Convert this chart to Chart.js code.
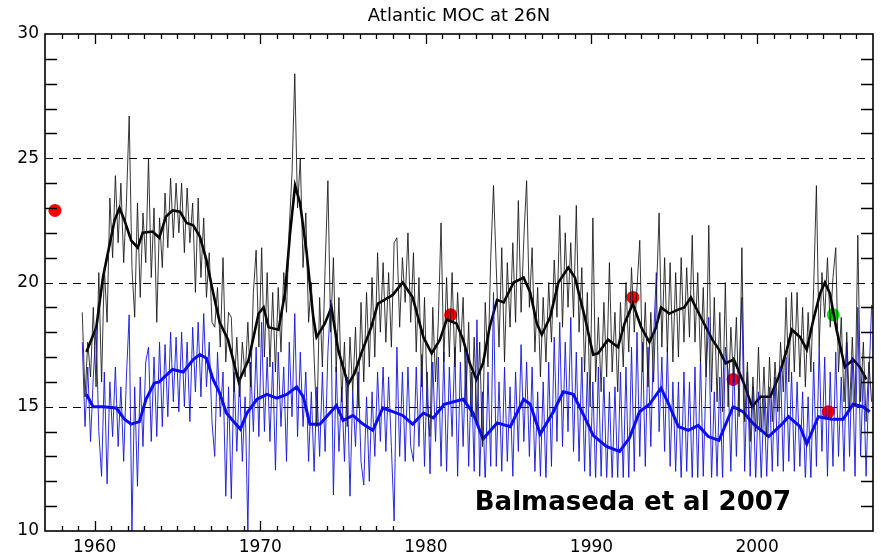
<!DOCTYPE html>
<html lang="en">
<head>
  <meta charset="UTF-8">
  <title>Atlantic MOC at 26N</title>
  <script src="https://cdn.jsdelivr.net/npm/chart.js"></script>
  <style>
    body {
      margin: 0;
      background: #fff;
    }
    #wrap {
      width: 881px;
      height: 556px;
    }
  </style>
</head>
<body>

<div id="wrap">
  <canvas id="moc"></canvas>
</div>

<script>
  // thin lines: one value every two months, starting at 1959.25
  var thinStart = 1959.25;
  var thinPerYear = 6;

  var blackMonthly = [
    18.8, 15.4, 17.6, 16.2, 19.0, 15.8,
    20.4, 16.0, 20.6, 18.4, 23.4, 21.0,
    24.3, 21.6, 24.0, 20.8, 23.2, 26.7,
    20.6, 18.6, 23.2, 19.4, 22.8, 20.8,
    25.0, 20.2, 23.0, 18.4, 22.6, 20.6,
    23.6, 21.4, 24.2, 21.8, 24.0, 22.0,
    24.0, 21.2, 23.8, 21.6, 23.2, 19.6,
    23.4, 20.2, 22.6, 19.4, 21.2, 18.4,
    18.2, 19.8, 17.4, 21.0, 16.8, 18.8,
    18.6, 15.6, 17.8, 15.4, 17.6, 16.2,
    18.4, 15.8, 19.6, 21.3, 17.4, 21.4,
    17.0, 20.4, 16.6, 19.6, 16.4, 19.8,
    17.2, 20.4, 18.8, 22.2, 24.4, 28.4,
    23.0, 25.0, 20.6, 22.8, 18.4, 20.0,
    17.0, 14.2, 19.4, 16.6, 20.6, 24.1,
    18.0, 21.0, 16.4, 19.4, 15.2, 17.6,
    14.2, 17.8, 15.6, 18.2, 15.0, 19.2,
    16.0, 19.6, 16.6, 20.2, 17.0, 21.2,
    18.0, 20.8, 17.6, 20.4, 17.4, 21.6,
    21.8, 18.2, 21.0, 19.2, 22.0, 18.4,
    21.2, 17.2, 20.2, 15.8, 19.4, 15.2,
    13.8, 19.0, 16.0, 18.4, 22.4, 16.8,
    20.2, 17.0, 20.4, 16.6, 19.6, 17.2,
    19.4, 15.2, 18.4, 14.6, 17.8, 14.4,
    17.6, 13.4, 19.2, 16.6, 21.0, 23.9,
    20.6, 17.4, 21.4, 16.8, 20.8, 18.2,
    21.6, 18.4, 23.3, 18.8, 21.8, 24.1,
    19.0, 21.4, 17.2, 19.8, 16.2, 19.4,
    16.8, 20.0, 17.6, 20.9, 18.6, 22.7,
    18.2, 22.0, 19.0, 21.6, 18.6, 23.1,
    18.0, 20.6, 16.4, 19.6, 15.0, 22.6,
    16.0, 18.6, 15.6, 19.2, 16.2, 20.8,
    16.4, 18.8, 15.6, 19.2, 16.6, 20.0,
    17.2, 20.6, 18.0, 19.8, 21.7, 16.4,
    19.2, 15.8, 18.8, 16.0, 19.4, 22.8,
    17.4, 21.0, 17.2, 20.8, 16.8, 20.4,
    17.0, 21.0, 17.6, 20.6, 17.8, 21.9,
    17.6, 20.4, 16.8, 19.8, 16.2, 22.3,
    15.6, 19.4, 15.2, 18.8, 14.8, 20.0,
    15.0, 18.2, 16.0, 18.6, 14.6, 21.4,
    14.4, 16.8, 13.6, 16.2, 14.0, 17.4,
    14.0, 16.6, 13.8, 17.0, 14.4, 16.8,
    14.8, 17.6, 15.6, 19.4, 16.0, 19.6,
    16.4, 19.6, 16.2, 19.0, 15.8, 18.8,
    16.4, 19.8, 23.9, 17.4, 20.4, 18.6,
    21.0, 18.2, 20.2, 21.4, 16.4, 18.6,
    15.2, 18.0, 14.8, 17.8, 15.0, 21.9,
    15.2, 17.6, 14.4, 16.8, 15.2
  ];

  var blueMonthly = [
    17.6, 14.2, 16.6, 13.6, 16.2, 18.2,
    14.0, 12.2, 16.4, 11.9, 16.0, 13.8,
    16.6, 13.4, 15.8, 12.8, 16.2, 18.7,
    10.0, 15.8, 11.8, 16.2, 13.4, 16.8,
    17.4, 13.6, 17.0, 13.8, 17.6, 14.2,
    17.5, 14.6, 18.0, 15.2, 17.8, 14.8,
    18.0, 15.0, 17.6, 14.4, 18.2, 15.6,
    18.4, 15.4, 18.75, 15.8, 17.6, 14.4,
    13.0, 17.2, 14.6, 16.4, 11.4, 15.8,
    11.3, 16.4, 13.2, 16.2, 12.8, 15.4,
    10.0, 16.8, 14.0, 17.4, 13.8, 18.4,
    14.0, 17.0, 13.6, 16.8, 12.45, 17.2,
    14.2, 16.6, 12.8, 17.6, 14.6, 18.75,
    13.8, 17.2, 14.2, 16.4, 12.8, 15.6,
    12.4, 15.8, 13.0, 16.4, 13.2, 17.2,
    19.3, 11.45, 16.6, 13.2, 15.8, 12.8,
    16.2, 11.4, 15.6, 13.4, 16.4, 12.8,
    11.85, 15.4, 12.0, 15.6, 13.0, 16.4,
    13.6, 16.6, 13.2, 16.2, 13.4, 10.4,
    17.4, 13.0, 16.4, 12.8, 16.6, 13.4,
    12.8, 16.6, 13.4, 17.1, 12.6, 16.4,
    12.3, 16.8, 13.6, 17.0, 12.6, 17.2,
    12.4, 16.6, 13.8, 17.4, 12.2, 16.8,
    13.4, 17.2, 12.6, 16.4, 12.4, 18.5,
    12.2, 15.6, 11.8, 16.4, 12.6, 19.6,
    12.6, 16.0, 12.4, 16.6, 12.8, 15.8,
    12.2, 16.4, 13.2, 17.5, 13.6, 16.8,
    13.0, 16.6, 12.4, 15.6, 12.2, 16.0,
    12.0, 16.8, 12.6, 17.8, 13.6, 18.4,
    13.4, 17.6, 14.0, 18.6, 13.2, 17.2,
    12.8, 17.0, 12.4, 16.4, 12.2, 16.0,
    12.0, 16.6, 12.2, 16.2, 12.0, 15.6,
    12.0, 15.8, 12.1, 16.4, 12.0, 16.6,
    12.0, 17.4, 12.4, 18.0, 13.0, 17.6,
    12.6, 17.4, 13.4, 17.8, 20.4, 14.0,
    17.0, 13.2, 17.4, 12.6, 16.0, 12.4,
    16.0, 12.0, 16.4, 12.4, 16.0, 12.0,
    16.6, 12.0, 17.0, 12.2, 16.2, 18.6,
    12.0, 15.6, 12.2, 16.2, 12.0, 17.4,
    16.4, 12.4, 17.0, 13.0, 16.4, 19.4,
    12.4, 16.4, 12.2, 15.8, 12.0, 15.6,
    12.0, 15.4, 12.2, 15.8, 12.4, 16.2,
    12.6, 16.6, 12.4, 17.0, 12.8, 16.4,
    12.4, 16.0, 12.6, 15.6, 12.0, 15.4,
    12.0, 16.8, 12.6, 17.4, 13.2, 17.0,
    12.2, 16.4, 12.6, 17.2, 13.0, 16.2,
    12.4, 17.6, 13.0, 17.0, 12.2, 19.0,
    13.0, 16.4, 12.2, 16.0, 19.1
  ];

  // smoothed curves (year, Sv)
  var blackSmoothYears = [
    1959.5, 1960.1, 1960.5, 1960.8, 1961.2, 1961.5, 1961.8, 1962.2, 1962.6, 1962.9,
    1963.5, 1963.9, 1964.3, 1964.7, 1965.15, 1965.55, 1965.95, 1966.35, 1966.75, 1967.15,
    1967.55, 1968.05, 1968.7, 1969.3, 1969.9, 1970.2, 1970.5, 1971.1, 1971.5, 1971.8,
    1972.1, 1972.4, 1972.8, 1973.2, 1973.4, 1973.9, 1974.3, 1974.7, 1975.3, 1975.7,
    1976.1, 1976.7, 1977.1, 1977.5, 1978.0, 1978.6, 1979.2, 1979.85, 1980.35, 1980.85,
    1981.25, 1981.85, 1982.25, 1982.65, 1983.05, 1983.45, 1983.85, 1984.3, 1984.7, 1985.3,
    1985.9, 1986.3, 1986.7, 1987.0, 1987.5, 1988.0, 1988.6, 1989.0, 1989.6, 1990.1,
    1990.4, 1991.0, 1991.6, 1992.0, 1992.5, 1993.0, 1993.5, 1993.9, 1994.2, 1994.7,
    1995.2, 1995.6, 1996.0, 1996.6, 1997.3, 1997.7, 1998.1, 1998.6, 1999.2, 1999.7,
    2000.2, 2000.8, 2001.3, 2001.8, 2002.1, 2002.6, 2003.0, 2003.4, 2003.8, 2004.1,
    2004.4, 2004.8, 2005.3, 2005.8, 2006.2, 2006.6
  ];
  var blackSmooth = [
    17.2, 18.2, 20.2, 21.2, 22.5, 23.0, 22.5, 21.7, 21.4, 22.0,
    22.05, 21.8, 22.65, 22.9, 22.85, 22.4, 22.3, 21.85, 20.9, 19.6,
    18.4, 17.7, 16.0, 16.9, 18.75, 19.0, 18.2, 18.1, 19.6, 22.0,
    23.9, 23.2, 21.2, 18.6, 17.8, 18.35, 19.0, 17.3, 15.9, 16.35,
    17.15, 18.2, 19.15, 19.3, 19.5, 20.0, 19.4, 17.8, 17.15, 17.7,
    18.5, 18.35, 17.7, 16.75, 16.1, 16.75, 18.2, 19.3, 19.2, 20.0,
    20.2, 19.6, 18.35, 17.9, 18.6, 20.0, 20.6, 20.2, 18.6, 17.1,
    17.15, 17.7, 17.4, 18.35, 19.15, 18.2, 17.6, 18.2, 19.0, 18.75,
    18.9, 19.0, 19.4, 18.6, 17.7, 17.3, 16.75, 16.9, 15.95, 15.0,
    15.4, 15.4, 16.2, 17.3, 18.1, 17.8, 17.3, 18.5, 19.55, 20.0,
    19.55, 18.1, 16.6, 16.9, 16.6, 16.1
  ];

  var blueSmoothYears = [
    1959.5, 1959.9, 1960.5, 1961.3, 1961.8, 1962.2, 1962.7, 1963.1, 1963.6, 1963.9,
    1964.7, 1965.35, 1965.95, 1966.35, 1966.75, 1967.15, 1967.55, 1967.95, 1968.4, 1968.8,
    1969.2, 1969.8, 1970.4, 1971.0, 1971.6, 1972.2, 1972.6, 1973.0, 1973.6, 1974.2,
    1974.6, 1975.0, 1975.6, 1976.2, 1976.8, 1977.4, 1978.0, 1978.6, 1979.2, 1979.85,
    1980.45, 1981.1, 1982.25, 1982.85, 1983.45, 1984.3, 1985.1, 1985.9, 1986.3, 1986.9,
    1987.7, 1988.3, 1988.9, 1989.5, 1990.1, 1990.9, 1991.7, 1992.3, 1992.9, 1993.5,
    1994.2, 1994.6, 1995.25, 1995.85, 1996.45, 1997.05, 1997.7, 1998.55, 1999.15, 1999.8,
    2000.7, 2001.5, 2001.9, 2002.6, 2003.0, 2003.7, 2004.5, 2005.2, 2005.8, 2006.4,
    2006.8
  ];
  var blueSmooth = [
    15.5, 15.0, 15.0, 14.95, 14.5, 14.3, 14.4, 15.3, 15.95, 16.0,
    16.5, 16.4, 16.9, 17.1, 16.95, 16.1, 15.55, 14.75, 14.4, 14.1,
    14.75, 15.3, 15.5, 15.35, 15.5, 15.8, 15.4, 14.3, 14.3, 14.75,
    15.05, 14.45, 14.65, 14.3, 14.05, 14.95, 14.8, 14.65, 14.3, 14.75,
    14.55, 15.1, 15.3, 14.75, 13.7, 14.35, 14.2, 15.3, 15.1, 13.9,
    14.8, 15.6, 15.5, 14.7, 13.85, 13.4, 13.2, 13.75, 14.8, 15.1,
    15.75, 15.2, 14.2, 14.05, 14.25, 13.8, 13.65, 15.0, 14.8, 14.3,
    13.8, 14.3, 14.6, 14.2, 13.5, 14.6, 14.5, 14.5, 15.1, 15.0,
    14.8
  ];

  // single estimates
  var redYears = [1957.6, 1981.5, 1992.5, 1998.55, 2004.3];
  var redValues = [22.9, 18.7, 19.4, 16.1, 14.8];
  var greenYears = [2004.6];
  var greenValues = [18.7];

  var xTickLabels = [1960, 1970, 1980, 1990, 2000];
  var yTickLabels = [10, 15, 20, 25, 30];
  var dashedAt = [15, 20, 25];

  function monthly(vals) {
    return vals.map(function (v, i) { return { x: thinStart + i / thinPerYear, y: v }; });
  }
  function pairs(xs, ys) {
    return xs.map(function (x, i) { return { x: x, y: ys[i] }; });
  }

  var axisFont = { family: 'DejaVu Sans', size: 17 };

  var decor = {
    id: 'decor',
    beforeDatasetsDraw: function (chart) {
      var ctx = chart.ctx, a = chart.chartArea, y = chart.scales.y;
      ctx.save();
      ctx.strokeStyle = '#000';
      ctx.lineWidth = 1.2;
      ctx.setLineDash([8, 6]);
      dashedAt.forEach(function (v) {
        var py = Math.round(y.getPixelForValue(v)) + 0.5;
        ctx.beginPath();
        ctx.moveTo(a.left, py);
        ctx.lineTo(a.right, py);
        ctx.stroke();
      });
      ctx.restore();

      ctx.save();
      ctx.fillStyle = '#000';
      ctx.font = '18px "DejaVu Sans"';
      ctx.textAlign = 'center';
      ctx.textBaseline = 'alphabetic';
      ctx.fillText('Atlantic MOC at 26N', (a.left + a.right) / 2, 21);
      ctx.restore();
    },
    afterDatasetsDraw: function (chart) {
      var ctx = chart.ctx, a = chart.chartArea, x = chart.scales.x, y = chart.scales.y;
      ctx.save();
      ctx.strokeStyle = '#000';
      ctx.lineWidth = 1.3;
      // year ticks, top and bottom, pointing inward
      for (var yr = 1958; yr <= 2006; yr++) {
        var px = Math.round(x.getPixelForValue(yr)) + 0.5;
        var len = yr % 10 === 0 ? 10 : 5;
        ctx.beginPath();
        ctx.moveTo(px, a.bottom); ctx.lineTo(px, a.bottom - len);
        ctx.moveTo(px, a.top); ctx.lineTo(px, a.top + len);
        ctx.stroke();
      }
      ctx.restore();

      // white label box
      var bx0 = x.getPixelForValue(1978.9), by0 = y.getPixelForValue(12.15);
      ctx.save();
      ctx.fillStyle = '#fff';
      ctx.fillRect(bx0, by0, a.right - bx0, a.bottom - by0);
      ctx.fillStyle = '#000';
      ctx.font = 'bold 26px "DejaVu Sans"';
      ctx.textAlign = 'center';
      ctx.textBaseline = 'middle';
      ctx.fillText('Balmaseda et al 2007', x.getPixelForValue(1992.5), y.getPixelForValue(11.1));
      ctx.restore();

      // Sv ticks, left and right
      ctx.save();
      ctx.strokeStyle = '#000';
      ctx.lineWidth = 1.3;
      for (var v = 11; v <= 29; v++) {
        if (v % 5 === 0) continue;
        var py = Math.round(y.getPixelForValue(v)) + 0.5;
        ctx.beginPath();
        ctx.moveTo(a.left, py); ctx.lineTo(a.left + 12, py);
        ctx.moveTo(a.right, py); ctx.lineTo(a.right - 12, py);
        ctx.stroke();
      }
      ctx.lineWidth = 1.6;
      ctx.strokeRect(a.left, a.top, a.right - a.left, a.bottom - a.top);
      ctx.restore();
    }
  };

  var ctx = document.getElementById('moc').getContext('2d');

  var grafico = new Chart(ctx, {
    type: 'scatter',
    data: {
      datasets: [
        {
          data: monthly(blackMonthly),
          showLine: true,
          borderColor: 'rgba(20,20,20,0.85)',
          borderWidth: 1,
          pointRadius: 0
        },
        {
          data: monthly(blueMonthly),
          showLine: true,
          borderColor: 'rgba(20,20,220,0.9)',
          borderWidth: 1,
          pointRadius: 0
        },
        {
          data: pairs(blackSmoothYears, blackSmooth),
          showLine: true,
          borderColor: '#000',
          borderWidth: 2.6,
          pointRadius: 0
        },
        {
          data: pairs(blueSmoothYears, blueSmooth),
          showLine: true,
          borderColor: '#0a0aff',
          borderWidth: 3,
          pointRadius: 0
        },
        {
          data: pairs(redYears, redValues),
          pointRadius: 6.5,
          pointBackgroundColor: '#ff0000',
          pointBorderWidth: 0
        },
        {
          data: pairs(greenYears, greenValues),
          pointRadius: 6.5,
          pointBackgroundColor: '#00e600',
          pointBorderWidth: 0
        }
      ]
    },
    options: {
      responsive: true,
      maintainAspectRatio: false,
      animation: false,
      layout: { padding: { top: 34, right: 8, left: 0, bottom: 0 } },
      plugins: {
        legend: { display: false },
        tooltip: { enabled: false },
        title: { display: false }
      },
      scales: {
        x: {
          type: 'linear',
          min: 1957,
          max: 2007,
          afterFit: function (s) { s.height = 25; },
          afterBuildTicks: function (s) {
            s.ticks = xTickLabels.map(function (v) { return { value: v }; });
          },
          grid: { display: false, drawTicks: false },
          border: { display: false },
          ticks: {
            color: '#000',
            font: axisFont,
            padding: 6,
            maxRotation: 0,
            callback: function (v) { return String(v); }
          }
        },
        y: {
          min: 10,
          max: 30,
          afterFit: function (s) { s.width = 45; },
          afterBuildTicks: function (s) {
            s.ticks = yTickLabels.map(function (v) { return { value: v }; });
          },
          grid: { display: false, drawTicks: false },
          border: { display: false },
          ticks: {
            color: '#000',
            font: axisFont,
            padding: 6,
            callback: function (v) { return String(v); }
          }
        }
      }
    },
    plugins: [decor]
  });
</script>

</body>
</html>
